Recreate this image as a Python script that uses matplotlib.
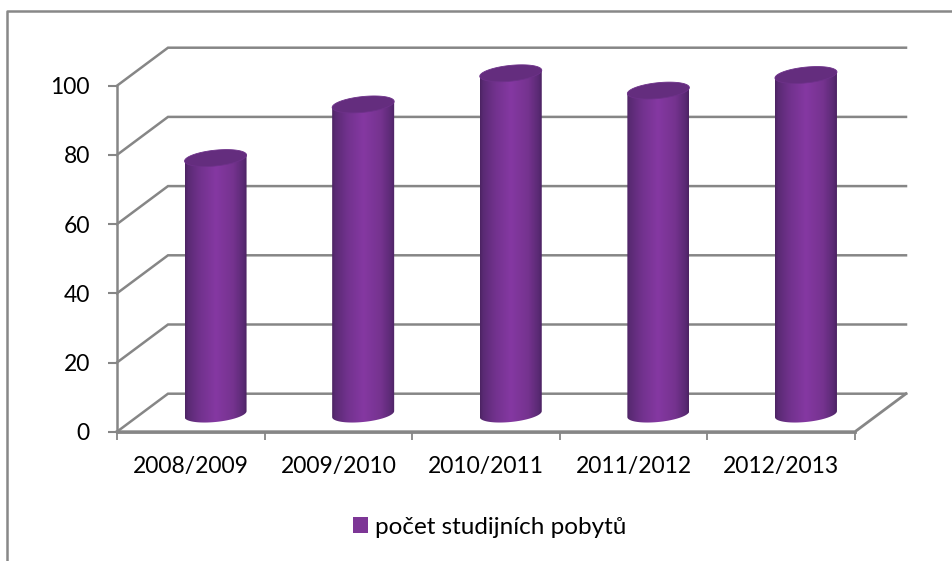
import numpy as np
import matplotlib
matplotlib.use("Agg")
import matplotlib.pyplot as plt
from matplotlib.patches import Polygon, Patch
from matplotlib.lines import Line2D
from matplotlib.colors import LinearSegmentedColormap

years = ["2008/2009", "2009/2010", "2010/2011", "2011/2012", "2012/2013"]
pobyty = [74, 89.5, 98.5, 93.5, 98]
y_ticks = [0, 20, 40, 60, 80, 100]
legend_label = "počet studijních pobytů"

W, H = 953, 561
plt.rcParams['font.family'] = ['Lato', 'DejaVu Sans']
GRAY = "#868686"

fig = plt.figure(figsize=(W / 100, H / 100), dpi=100)
# plot box in pixels
x0, x1, ytop, ybot = 117, 855, 85.7, 431.7
ax = fig.add_axes([x0 / W, 1 - ybot / H, (x1 - x0) / W, (ybot - ytop) / H])
ax.set_xlim(0, 5)
ax.set_ylim(0, 100)
ax.patch.set_visible(False)

px_x = 5 / (x1 - x0)
px_y = 100 / (ybot - ytop)
dx = 51 * px_x
dy = 38 * px_y

# back wall + side wall gridlines
for v in y_ticks:
    ax.plot([0, dx, 5 + dx], [v, v + dy, v + dy], color=GRAY, lw=1.8, clip_on=False, zorder=1, solid_joinstyle="miter")
ax.plot([0, 5, 5 + dx], [0, 0, dy], color=GRAY, lw=2.0, clip_on=False, zorder=2)

cmap = LinearSegmentedColormap.from_list("cyl", [
    (0.0, "#4c2362"), (0.05, "#5a2a74"), (0.25, "#72328e"),
    (0.5, "#8538a2"), (0.78, "#75338f"), (0.95, "#592973"), (1.0, "#4c2362")])
grad = np.linspace(0, 1, 256).reshape(1, -1)

a = 31 * px_x
b = 7.9 * px_y
k = 3 * px_y
t = np.linspace(0, 2 * np.pi, 120)
base = dy / 2 - 0.4

for i, val in enumerate(pobyty):
    cx = i + 0.5 + dx / 2 - 0.005
    # lower half of the base ellipse, then straight up the sides
    low = np.linspace(np.pi, 2 * np.pi, 60)
    xs = cx + a * np.cos(low)
    ys = base + b * np.sin(low) + k * np.cos(low)
    body = np.column_stack([
        np.r_[xs, cx + a, cx - a],
        np.r_[ys, val + base + k, val + base - k],
    ])
    poly = Polygon(body, closed=True, fc="none", ec="none", zorder=3)
    ax.add_patch(poly)
    im = ax.imshow(grad, cmap=cmap, aspect="auto", zorder=3,
                   extent=[cx - a, cx + a, base - 5, val + base + 3])
    im.set_clip_box(fig.bbox)
    im.set_clip_path(poly)
    top = np.column_stack([cx + a * np.cos(t), val + base + b * np.sin(t) + k * np.cos(t)])
    ax.add_patch(Polygon(top, closed=True, fc="#642d7e", ec="#6d3189", lw=0.6, zorder=4, clip_on=False))

ax.set_xlim(0, 5)
ax.set_ylim(0, 100)

for s in ["top", "right"]:
    ax.spines[s].set_visible(False)
ax.spines["left"].set_color(GRAY)
ax.spines["bottom"].set_color(GRAY)
ax.spines["left"].set_linewidth(1.8)
ax.spines["bottom"].set_linewidth(2.0)

ax.set_yticks(y_ticks)
ax.set_xticks(range(6))
ax.set_xticklabels([])
ax.set_xticks(np.arange(5) + 0.5, minor=True)
ax.set_xticklabels(years, minor=True)
ax.tick_params(axis="y", length=6.5, width=1.5, color=GRAY, labelsize=16.5, pad=13)
ax.tick_params(axis="x", which="major", length=5.5, width=1.3, color=GRAY)
ax.tick_params(axis="x", which="minor", length=0, labelsize=16.5, pad=17.5)

fig.legend(handles=[Patch(fc="#7d3696", ec="none", label=legend_label)],
           loc="center", bbox_to_anchor=(490 / W, 1 - 527 / H), frameon=False,
           fontsize=17.5, handlelength=0.62, handleheight=0.62, handletextpad=0.3)

# chart area border: only top and left fall inside the picture
fig.add_artist(Line2D([7 / W, 7 / W, 1], [0, 1 - 11 / H, 1 - 11 / H], color="#888888", lw=1.8))

fig.savefig("out.png", dpi=100)
